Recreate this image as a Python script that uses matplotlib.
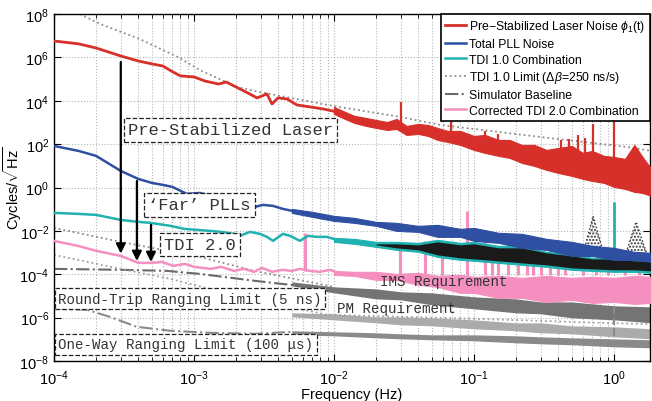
import numpy as np
import matplotlib.pyplot as plt
from matplotlib.ticker import FixedLocator, LogLocator, NullLocator, NullFormatter

plt.rcParams['font.family'] = ['Liberation Sans', 'DejaVu Sans']
plt.rcParams['mathtext.fontset'] = 'custom'
plt.rcParams['mathtext.rm'] = 'Liberation Sans'
plt.rcParams['mathtext.it'] = 'Liberation Sans:italic'
plt.rcParams['mathtext.bf'] = 'Liberation Sans:bold'
plt.rcParams['hatch.linewidth'] = 1.0

# ---- pre-stabilized laser noise (red) ----
red_f = [1e-4, 1.5e-4, 2e-4, 3e-4, 4e-4, 5e-4, 6e-4, 7e-4, 8e-4, 1e-3, 1.2e-3, 1.5e-3,
         1.7e-3, 2e-3, 2.5e-3, 2.82e-3, 3.32e-3, 3.61e-3, 3.98e-3, 4.62e-3, 5.44e-3,
         6.74e-3, 8.35e-3, 1.05e-2]
red_v = [5.7e6, 4.2e6, 2.7e6, 1.16e6, 6.8e5, 5.0e5, 4.0e5, 2.2e5, 1.4e5, 1.25e5, 8.1e4, 5.9e4,
         7.3e4, 4.3e4, 2.06e4, 1.35e4, 2.06e4, 7.1e3, 1.35e4, 1.21e4, 6.4e3,
         5.2e3, 4.2e3, 3.05e3]
red_band_f = [0.01, 0.012, 0.014, 0.017, 0.02, 0.024, 0.028, 0.033, 0.04, 0.047, 0.055, 0.065,
              0.08, 0.1, 0.12, 0.15, 0.18, 0.22, 0.27, 0.33, 0.4, 0.5, 0.6, 0.7, 0.85, 1.0,
              1.2, 1.4, 1.6, 1.85]
red_band_hi = [5.18e3, 3.05e3, 2.0e3, 1.61e3, 1.30e3, 1.05e3, 1.45e3, 690, 853, 767, 558, 406,
               406, 239, 265, 156, 156, 91.9, 91.9, 54.1, 66.8, 82.6, 39.3, 48.6, 28.6, 25.7,
               20.8, 91.9, 25.7, 7.2]
red_band_lo = [2.47e3, 1.45e3, 948, 690, 558, 451, 501, 265, 295, 239, 156, 126,
               91.9, 54.1, 39.3, 28.6, 23.1, 13.6, 9.9, 6.5, 4.7, 3.43, 2.49, 2.01, 1.63, 1.07,
               0.86, 0.63, 0.56, 0.41]
red_spike_f = [0.03, 0.068, 0.12, 0.148, 0.42, 0.48, 0.55, 0.62, 0.71, 1.0]
red_spike_lo = [690, 300, 100, 60, 30, 30, 10, 8, 5, 3]
red_spike_hi = [8.8e3, 1.05e3, 406, 295, 150, 180, 250, 200, 850, 1.45e3]

# ---- total PLL noise (blue) ----
blue_f = [1e-4, 1.5e-4, 2e-4, 3e-4, 4e-4, 5e-4, 6e-4, 7e-4, 8.9e-4, 1.1e-3, 1.46e-3, 1.9e-3,
          2.39e-3, 2.73e-3, 3.11e-3, 3.67e-3, 4.32e-3, 5.44e-3]
blue_v = [82.6, 48.6, 28.6, 5.8, 2.49, 1.63, 1.32, 1.07, 0.51, 0.56, 0.37, 0.30,
          0.217, 0.128, 0.158, 0.142, 0.103, 0.075]
blue_band_f = [0.005, 0.007, 0.01, 0.014, 0.02, 0.028, 0.04, 0.055, 0.08, 0.1, 0.15, 0.22,
               0.33, 0.5, 0.7, 1.0, 1.4, 1.85]
blue_band_hi = [0.103, 0.0752, 0.0491, 0.0397, 0.026, 0.0234, 0.017, 0.0189, 0.0124, 0.0137,
                0.0081, 0.0073, 0.00428, 0.00311, 0.00204, 0.00165, 0.00108, 9.7e-4]
blue_band_lo = [0.0675, 0.0442, 0.0289, 0.0234, 0.017, 0.010, 0.009, 0.0053, 0.0053, 0.00346,
                0.0028, 0.00165, 0.00133, 7.0e-4, 7.0e-4, 4.6e-4, 4.6e-4, 3.7e-4]

# ---- TDI 1.0 combination (teal) ----
teal_f = [1e-4, 1.5e-4, 2e-4, 3e-4, 4e-4, 4.9e-4, 6.8e-4, 8.5e-4, 1.05e-3, 1.3e-3, 1.56e-3,
          1.93e-3, 2.13e-3, 2.51e-3, 2.96e-3, 3.32e-3, 3.67e-3, 4.32e-3, 4.85e-3, 5.72e-3,
          6.5e-3, 7.56e-3, 8.9e-3, 1.1e-2]
teal_v = [0.0675, 0.0607, 0.0546, 0.0321, 0.026, 0.0234, 0.017, 0.0124, 0.0111, 0.010, 0.009,
          0.0073, 0.0059, 0.009, 0.0073, 0.0053, 0.00346, 0.0073, 0.0059, 0.00346,
          0.0059, 0.0053, 0.0053, 0.00346]
teal_band_f = [0.01, 0.014, 0.02, 0.028, 0.04, 0.055, 0.08, 0.1, 0.15, 0.22, 0.33, 0.5, 0.7,
               1.0, 1.4, 1.85]
teal_band_hi = [0.00475, 0.00428, 0.00311, 0.00311, 0.0028, 0.00385, 0.0028, 0.00311, 0.00204,
                0.00204, 0.00108, 8.7e-4, 5.7e-4, 6.3e-4, 4.6e-4, 4.6e-4]
teal_band_lo = [0.00311, 0.00252, 0.00183, 0.00133, 0.00108, 6.3e-4, 4.6e-4, 4.15e-4, 3.35e-4,
                2.71e-4, 2.19e-4, 1.6e-4, 1.43e-4, 1.29e-4, 1.29e-4, 1.16e-4]
teal_spike_f = [1.0]
teal_spike_lo = [1e-3]
teal_spike_hi = [0.217]

# ---- TDI 1.0 limit (dotted) ----
lim_a_f = [1e-4, 1.53e-4, 2.13e-4, 4.1e-4, 7.9e-4, 1.1e-3, 2.03e-3, 2.96e-3, 9.8e-3, 2.96e-2,
           5.7e-2, 0.296, 1.24, 1.85]
lim_a_v = [3.6e8, 1e8, 3.5e7, 7.0e6, 9.4e5, 2.6e5, 4.3e4, 2.5e4, 5.8e3, 1.8e3,
           770, 215, 74, 48.6]
lim_b_f = [1e-4, 3e-4, 1.1e-3, 2.7e-3, 1e-2]
lim_b_v = [0.0137, 0.0031, 6.3e-4, 1.43e-4, 2.62e-5]
lim_c_f = [1e-4, 3e-4, 6.8e-4, 1.56e-3, 2.7e-3, 8.9e-3, 3e-2, 0.1, 0.3, 0.8, 1.85]
lim_c_v = [7.8e-4, 1.77e-4, 6.1e-5, 1.55e-5, 7.3e-6, 1.35e-6, 1.09e-6, 8.8e-7, 7.1e-7, 5.75e-7, 5e-7]
lim_band_f = [0.02, 0.028, 0.04, 0.055, 0.08, 0.1, 0.15, 0.22, 0.33, 0.5, 0.7, 1.0, 1.4, 1.85]
lim_band_hi = [0.00252, 0.00252, 0.00226, 0.00311, 0.00226, 0.00252, 0.00165, 0.00165, 9.7e-4,
               7.0e-4, 5.1e-4, 5.1e-4, 4.15e-4, 4.15e-4]
lim_band_lo = [0.00226, 0.00165, 0.00133, 7.8e-4, 5.7e-4, 5.1e-4, 4.15e-4, 3.35e-4, 2.71e-4,
               1.97e-4, 1.77e-4, 1.6e-4, 1.6e-4, 1.43e-4]
lim_peak1_f = [0.6, 0.71, 0.85]
lim_peak1_v = [8e-4, 0.049, 8e-4]
lim_peak2_f = [1.2, 1.44, 1.75]
lim_peak2_v = [7e-4, 0.026, 6e-4]

# ---- simulator baseline (gray) ----
sb1_f = [1e-4, 3e-4, 6.4e-4, 1.1e-3, 2.7e-3, 5.7e-3]
sb1_v = [1.77e-4, 1.6e-4, 1.43e-4, 1.04e-4, 5.0e-5, 2.9e-5]
sb2_f = [1e-4, 1.72e-4, 2.5e-4, 3.9e-4, 6.8e-4, 1.3e-3, 2.7e-3, 5e-3]
sb2_v = [2.55e-6, 2.29e-6, 1.09e-6, 3.77e-7, 2.47e-7, 2.0e-7, 1.79e-7, 2.2e-7]
sb_band_f = [0.005, 0.01, 0.02, 0.03, 0.05, 0.1, 0.2, 0.3, 0.5, 1.0, 1.85]
sb_dark_hi = [4.47e-5, 2.62e-5, 2.12e-5, 1.55e-5, 1.39e-5, 9.1e-6, 7.3e-6, 5.3e-6, 5.3e-6, 3.5e-6, 3.15e-6]
sb_dark_lo = [2.92e-5, 1.39e-5, 7.3e-6, 6.6e-6, 3.9e-6, 2.55e-6, 1.66e-6, 1.5e-6, 9.8e-7, 7.9e-7, 5.75e-7]
sb_mid_hi = [1.66e-6, 1.5e-6, 1.09e-6, 1.09e-6, 9.8e-7, 7.9e-7, 5.75e-7, 5.75e-7, 4.19e-7, 3.77e-7, 3.05e-7]
sb_mid_lo = [1.09e-6, 7.9e-7, 5.75e-7, 4.66e-7, 4.19e-7, 3.05e-7, 2.47e-7, 2.0e-7, 1.79e-7, 1.3e-7, 1.05e-7]
sb_low_hi = [2.47e-7, 2.22e-7, 2.0e-7, 1.79e-7, 1.61e-7, 1.61e-7, 1.45e-7, 1.3e-7, 1.17e-7, 1.05e-7, 9.5e-8]
sb_low_lo = [1.61e-7, 1.45e-7, 1.17e-7, 1.05e-7, 9.5e-8, 8.5e-8, 6.9e-8, 6.2e-8, 5.6e-8, 4.5e-8, 4.05e-8]
sb_spike_f = [1.0]
sb_spike_lo = [1.45e-7]
sb_spike_hi = [6.1e-5]

# ---- corrected TDI 2.0 combination (pink) ----
pink_f = [1e-4, 1.5e-4, 2e-4, 3e-4, 4e-4, 5e-4, 5.9e-4, 7.1e-4, 8.6e-4, 1e-3, 1.32e-3, 1.56e-3,
          1.93e-3, 2.28e-3, 2.68e-3, 3.06e-3, 3.61e-3, 4.25e-3, 5e-3, 5.72e-3, 6.74e-3,
          7.94e-3, 9.4e-3, 1.1e-2]
pink_v = [0.00346, 0.002, 0.0012, 7.0e-4, 3.35e-4, 3.35e-4, 3.7e-4, 2.44e-4, 3.0e-4, 2.2e-4,
          1.77e-4, 2.2e-4, 1.43e-4, 1.77e-4, 1.29e-4, 1.97e-4, 1.29e-4, 1.6e-4, 1.43e-4,
          1.77e-4, 1.43e-4, 1.29e-4, 1.6e-4, 1.04e-4]
pink_band_f = [0.01, 0.014, 0.02, 0.028, 0.04, 0.055, 0.08, 0.1, 0.15, 0.22, 0.33, 0.5, 0.7,
               1.0, 1.4, 1.85]
pink_band_hi = [1.43e-4, 1.29e-4, 1.29e-4, 1.04e-4, 1.16e-4, 8.4e-5, 9.4e-5, 7.6e-5, 8.4e-5,
                6.8e-5, 8.4e-5, 6.8e-5, 7.6e-5, 6.8e-5, 8.4e-5, 7.6e-5]
pink_band_lo = [9.4e-5, 8.4e-5, 5.5e-5, 5.5e-5, 3.25e-5, 2.62e-5, 1.39e-5, 1.39e-5, 8.2e-6,
                8.2e-6, 5.3e-6, 6.6e-6, 4.8e-6, 5.3e-6, 4.3e-6, 4.8e-6]
pink_spike_f = [6.2e-3, 0.0296, 0.0447, 0.059, 0.089, 0.12, 0.135, 0.148, 0.174, 0.206, 0.24,
                0.265, 0.3, 0.35, 0.4, 0.45, 0.6, 0.75, 0.9, 1.2, 1.5]
pink_spike_hi = [0.0081, 0.002, 0.00346, 0.0031, 0.0836, 0.00346, 4.15e-4, 8.7e-4, 0.00475,
                 6.3e-4, 4.15e-4, 0.0031, 5.1e-4, 0.0012, 4.15e-4, 0.00108, 3.0e-4, 3.0e-4,
                 2.7e-4, 2.44e-4, 2.2e-4]
pink_spike_lo = [1.4e-4] + [9.0e-5] * 20

# ---- annotations ----
arrow_f = [3e-4, 3.91e-4, 4.93e-4]
arrow_from = [6.1e5, 2.0, 0.0189]
arrow_to = [9e-4, 4.1e-4, 3.7e-4]

box_labels = ['Pre-Stabilized Laser', '‘Far’ PLLs', 'TDI 2.0']
box_f = [3.38e-4, 4.69e-4, 6.1e-4]
box_v = [451, 0.158, 0.00239]
small_box_labels = ['Round-Trip Ranging Limit (5 ns)', 'One-Way Ranging Limit (100 μs)']
small_box_f = [1.07e-4, 1.07e-4]
small_box_v = [7.3e-6, 5.9e-8]
req_labels = ['IMS Requirement', 'PM Requirement']
req_f = [2.13e-2, 1.05e-2]
req_v = [5.0e-5, 2.83e-6]

y_ticks = [1e-8, 1e-6, 1e-4, 1e-2, 1e0, 1e2, 1e4, 1e6, 1e8]

RED = '#d7302a'
BLUE = '#2f4fa3'
TEAL = '#20b2b0'
PINK = '#f48fbf'

fig = plt.figure(figsize=(6.52, 4.02), dpi=100)
ax = fig.add_axes([54 / 652, 40 / 402, 596 / 652, 347 / 402])
ax.set_xscale('log')
ax.set_yscale('log')

# simulator baseline
ax.fill_between(sb_band_f, sb_low_lo, sb_low_hi, color='#8a8a8a', lw=0, zorder=2)
ax.fill_between(sb_band_f, sb_mid_lo, sb_mid_hi, color='#ababab', lw=0, zorder=2.1)
ax.fill_between(sb_band_f, sb_dark_lo, sb_dark_hi, color='#747474', lw=0, zorder=2.2)
ax.vlines(sb_spike_f, sb_spike_lo, sb_spike_hi, color='#8a8a8a', ls='--', lw=1.5, zorder=2.2)
sb_line, = ax.plot(sb1_f, sb1_v, color='#6a6a6a', ls='-.', lw=1.5, zorder=2.3)
ax.plot(sb2_f, sb2_v, color='#8a8a8a', ls='-.', lw=1.5, zorder=2.3)

# TDI 1.0 limits
lim_line, = ax.plot(lim_a_f, lim_a_v, color='#8c8c8c', ls=':', lw=1.3, zorder=2.5)
ax.plot(lim_b_f, lim_b_v, color='#8c8c8c', ls=':', lw=1.3, zorder=2.5)
ax.plot(lim_c_f, lim_c_v, color='#a0a0a0', ls=':', lw=1.3, zorder=2.5)

# pink
pink_line, = ax.plot(pink_f, pink_v, color=PINK, lw=1.8, zorder=3)
ax.fill_between(pink_band_f, pink_band_lo, pink_band_hi, color=PINK, lw=0.8, zorder=3)
ax.vlines(pink_spike_f, pink_spike_lo, pink_spike_hi, color=PINK, lw=2.2, zorder=3)

# teal + dense limit
teal_line, = ax.plot(teal_f, teal_v, color=TEAL, lw=1.8, zorder=4)
ax.fill_between(teal_band_f, teal_band_lo, teal_band_hi, color=TEAL, lw=0.8, zorder=4)
ax.vlines(teal_spike_f, teal_spike_lo, teal_spike_hi, color=TEAL, lw=2, zorder=4)
ax.fill_between(lim_band_f, lim_band_lo, lim_band_hi, color='#1a1a1a', lw=0, zorder=4.2)
for pf, pv in [(lim_peak1_f, lim_peak1_v), (lim_peak2_f, lim_peak2_v)]:
    ax.fill(pf, pv, fc='none', ec='#333333', lw=0, hatch='.....', zorder=4.1)
    ax.plot(pf, pv, color='#333333', ls=':', lw=1.0, zorder=4.1)

# blue
blue_line, = ax.plot(blue_f, blue_v, color=BLUE, lw=1.8, zorder=5)
ax.fill_between(blue_band_f, blue_band_lo, blue_band_hi, color=BLUE, lw=0.8, zorder=5)

# red
red_line, = ax.plot(red_f, red_v, color=RED, lw=2, zorder=6)
ax.fill_between(red_band_f, red_band_lo, red_band_hi, color=RED, lw=0.8, zorder=6)
ax.vlines(red_spike_f, red_spike_lo, red_spike_hi, color=RED, lw=1.6, zorder=6)

# arrows
for f, a, b in zip(arrow_f, arrow_from, arrow_to):
    ax.annotate('', xy=(f, b), xytext=(f, a), zorder=9,
                arrowprops=dict(arrowstyle='-|>', color='k', lw=1.6,
                                mutation_scale=14, shrinkA=0, shrinkB=0))

box_style = dict(boxstyle='square,pad=0.25', fc='white', ec='#222222', ls='--', lw=0.9)
for s, f, v in zip(box_labels, box_f, box_v):
    ax.text(f, v, s, family='Liberation Mono', fontsize=12.3, color='#333333',
            ha='left', va='center', bbox=box_style, zorder=10)
for s, f, v in zip(small_box_labels, small_box_f, small_box_v):
    ax.text(f, v, s, family='Liberation Mono', fontsize=10.2, color='#333333',
            ha='left', va='center', bbox=box_style, zorder=10)
for s, f, v in zip(req_labels, req_f, req_v):
    ax.text(f, v, s, family='Liberation Mono', fontsize=10.2, color='#333333',
            ha='left', va='center', zorder=10)

ax.set_xlim(1e-4, 1.81)
ax.set_ylim(1e-8, 1e8)
ax.yaxis.set_major_locator(FixedLocator(y_ticks))
ax.yaxis.set_minor_locator(NullLocator())
ax.xaxis.set_major_locator(LogLocator(base=10, numticks=12))
ax.xaxis.set_minor_locator(LogLocator(base=10, subs=np.arange(2, 10), numticks=12))
ax.xaxis.set_minor_formatter(NullFormatter())
ax.tick_params(which='both', direction='in', top=True, right=True, labelsize=10.5)
ax.tick_params(which='major', length=5)
ax.tick_params(which='minor', length=3)
ax.tick_params(axis='x', which='major', pad=5)
ax.set_axisbelow(True)
ax.grid(True, which='major', ls=':', color='#b5b5b5', lw=0.8)
ax.xaxis.grid(True, which='minor', ls=':', color='#b5b5b5', lw=0.8)
for sp in ax.spines.values():
    sp.set_linewidth(1.0)

ax.set_xlabel('Frequency (Hz)', fontsize=10.5)
ax.xaxis.set_label_coords(0.5, -0.075)
ax.set_ylabel(r'Cycles/$\sqrt{\rm Hz}$', fontsize=10.5)
ax.yaxis.set_label_coords(-0.05, 0.5)

handles = [red_line, blue_line, teal_line, lim_line, sb_line, pink_line]
labels = [r'Pre$-$Stabilized Laser Noise $\phi_1$(t)', 'Total PLL Noise', 'TDI 1.0 Combination',
          r'TDI 1.0 Limit ($\Delta\beta$=250 ns/s)', 'Simulator Baseline',
          'Corrected TDI 2.0 Combination']
leg = ax.legend(handles, labels, loc='upper right', bbox_to_anchor=(1.0, 1.0), borderaxespad=0.,
                fontsize=8.8, frameon=True, fancybox=False, edgecolor='black', framealpha=1,
                handlelength=1.7, handletextpad=0.3, labelspacing=0.3, borderpad=0.35)
leg.get_frame().set_linewidth(1.2)
leg.set_zorder(20)

fig.savefig('out.png', dpi=100)
